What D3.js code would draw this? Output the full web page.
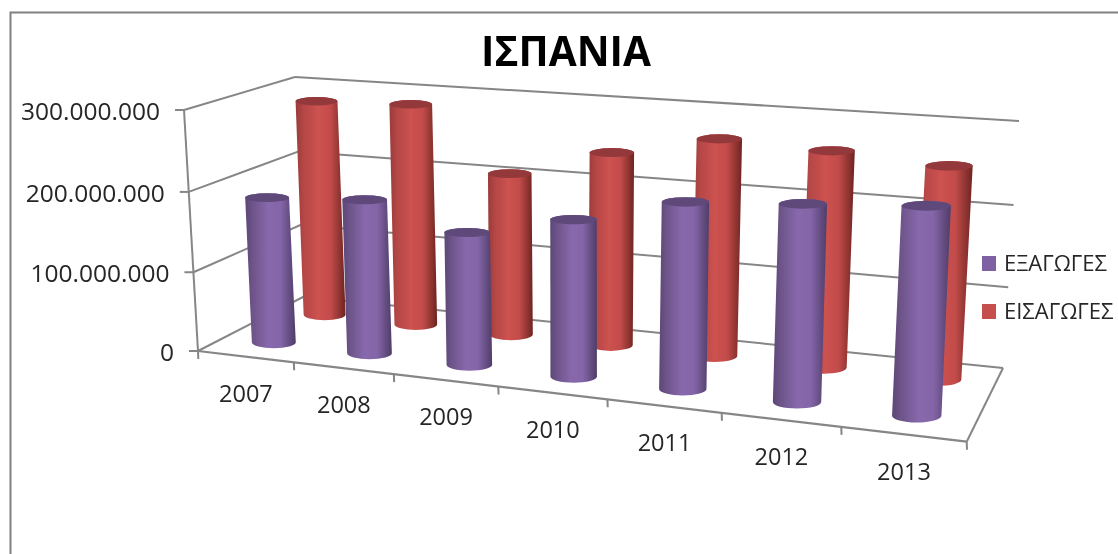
<!DOCTYPE html>
<html><head><meta charset="utf-8">
<script src="https://cdn.jsdelivr.net/npm/d3@7"></script>
<style>html,body{margin:0;padding:0;background:#fff;overflow:hidden}svg{display:block}text{font-family:"Open Sans","Noto Sans",sans-serif;fill:#262626}</style>
</head><body><div id="c"></div>
<script>
const title = "ΙΣΠΑΝΙΑ";
const years = ["2007","2008","2009","2010","2011","2012","2013"];
const seriesNames = ["ΕΞΑΓΩΓΕΣ","ΕΙΣΑΓΩΓΕΣ"];
const exportsVals = [185e6,193e6,164e6,191e6,223e6,232e6,241e6];
const importsVals = [283e6,287e6,208e6,244e6,270e6,265e6,257e6];
const valueTicks = [0,100e6,200e6,300e6];
const palette = {
  "ΕΞΑΓΩΓΕΣ":{swatch:"#7f60a3",top:"#5f4a7a",stops:["#5d4777","#6d5489","#8768ac","#8465a8","#4f3d68"]},
  "ΕΙΣΑΓΩΓΕΣ":{swatch:"#c4504e",top:"#93393a",stops:["#9a3b3a","#b34645","#cd5250","#c24c4a","#6e2422"]}
};
const W=1118,H=554;
const svg0=d3.select("#c").append("svg").attr("width",W).attr("height",H);
const defs=svg0.append("defs");
defs.append("filter").attr("id","soft").attr("x",0).attr("y",0).attr("width","100%").attr("height","100%")
  .append("feGaussianBlur").attr("stdDeviation",0.55);
const svg=svg0.append("g").attr("filter","url(#soft)");
seriesNames.forEach((s,i)=>{
  const g=defs.append("linearGradient").attr("id","g"+i).attr("x1",0).attr("x2",1).attr("y1",0).attr("y2",0);
  [0,.15,.45,.7,1].forEach((o,j)=>g.append("stop").attr("offset",o).attr("stop-color",palette[s].stops[j]));
});
svg.append("rect").attr("x",0).attr("y",0).attr("width",W).attr("height",H).attr("fill","#fff");
svg.append("rect").attr("x",10.5).attr("y",12.5).attr("width",W+20).attr("height",H+20).attr("fill","#fff").attr("stroke","#808080").attr("stroke-width",2);

// 3D box corners on screen
const box={f0b:[198,351],f1b:[966.7,441.7],b0b:[304,296.5],b1b:[1003,368],f0t:[184,110],f1t:[980,170],b0t:[295,77],b1t:[1019,121]};
const warp=c=>u=>u/(u+c*(1-u));
const wx=warp(1.17), wz=warp(1.03);
const lerp=(a,b,t)=>[a[0]+(b[0]-a[0])*t,a[1]+(b[1]-a[1])*t];
function project(u,v,w){
  const U=wx(u),Z=wz(w);
  const fb=lerp(box.f0b,box.f1b,U),bb=lerp(box.b0b,box.b1b,U),ft=lerp(box.f0t,box.f1t,U),bt=lerp(box.b0t,box.b1t,U);
  return lerp(lerp(fb,bb,v),lerp(ft,bt,v),Z);
}
const xBand=d3.scaleBand().domain(years).range([0,1]);
const depth=d3.scaleBand().domain(seriesNames).range([0,1]);
const yScale=d3.scaleLinear().domain([0,300e6]).range([0,1]);
const fmt=d3.formatLocale({decimal:",",thousands:".",grouping:[3],currency:["",""]}).format(",.0f");
const gridC="#868686";
const line=(a,b,sw=2)=>svg.append("line").attr("x1",a[0]).attr("y1",a[1]).attr("x2",b[0]).attr("y2",b[1]).attr("stroke",gridC).attr("stroke-width",sw);

valueTicks.forEach(t=>{
  const w=yScale(t);
  line(project(0,0,w),project(0,1,w));
  line(project(0,1,w),project(1,1,w));
  const p=project(0,0,w);
  line([p[0]-9,p[1]],p);
  svg.append("text").attr("x",p[0]-24).attr("y",p[1]+1.5).attr("dy","0.35em").attr("text-anchor","end").attr("font-size",24.5).text(fmt(t));
});
line(project(0,0,0),project(0,0,1));
line(project(0,0,0),project(1,0,0),2.2);
line(project(1,0,0),project(1,1,0));
d3.range(years.length+1).forEach(i=>{
  const p=project(i/years.length,0,0);
  line(p,[p[0]+.3,p[1]+8]);
});
years.forEach(y=>{
  const pl=project(xBand(y),0,0),pr=project(xBand(y)+xBand.bandwidth(),0,0);
  svg.append("text").attr("x",(pl[0]+pr[0])/2).attr("y",(pl[1]+pr[1])/2+37).attr("dy","0.35em").attr("text-anchor","middle").attr("font-size",23.5).text(y);
});

function cyl(name,idx,vals){
  const g=svg.append("g");
  years.forEach((y,i)=>{
    const u=xBand(y)+xBand.bandwidth()/2+0.003, v=depth(name)+depth.bandwidth()/2+0.01;
    const b=project(u,v,0), t=project(u,v,yScale(vals[i]));
    const rx=21.5+3.2*wx(u)-1*v+(idx===0?0.5:0), ryB=rx*0.27, ryT=rx*0.2;
    const d=`M${t[0]-rx},${t[1]}L${b[0]-rx},${b[1]}A${rx},${ryB} 0 0 0 ${b[0]+rx},${b[1]}L${t[0]+rx},${t[1]}A${rx},${ryT} 0 0 0 ${t[0]-rx},${t[1]}Z`;
    g.append("path").attr("d",d).attr("fill",`url(#g${idx})`);
    g.append("ellipse").attr("cx",t[0]).attr("cy",t[1]).attr("rx",rx).attr("ry",ryT).attr("fill",palette[name].top);
  });
}
cyl(seriesNames[1],1,importsVals);
cyl(seriesNames[0],0,exportsVals);

svg.append("text").attr("x",566).attr("y",52).attr("dy","0.35em").attr("text-anchor","middle").attr("font-size",40.5).attr("font-weight",700).style("fill","#000").text(title);
seriesNames.forEach((s,i)=>{
  const y=263.5+i*48;
  svg.append("rect").attr("x",982).attr("y",y-7.5).attr("width",14).attr("height",15).attr("fill",palette[s].swatch);
  svg.append("text").attr("x",1004).attr("y",y).attr("dy","0.35em").attr("font-size",22).text(s);
});
</script></body></html>
